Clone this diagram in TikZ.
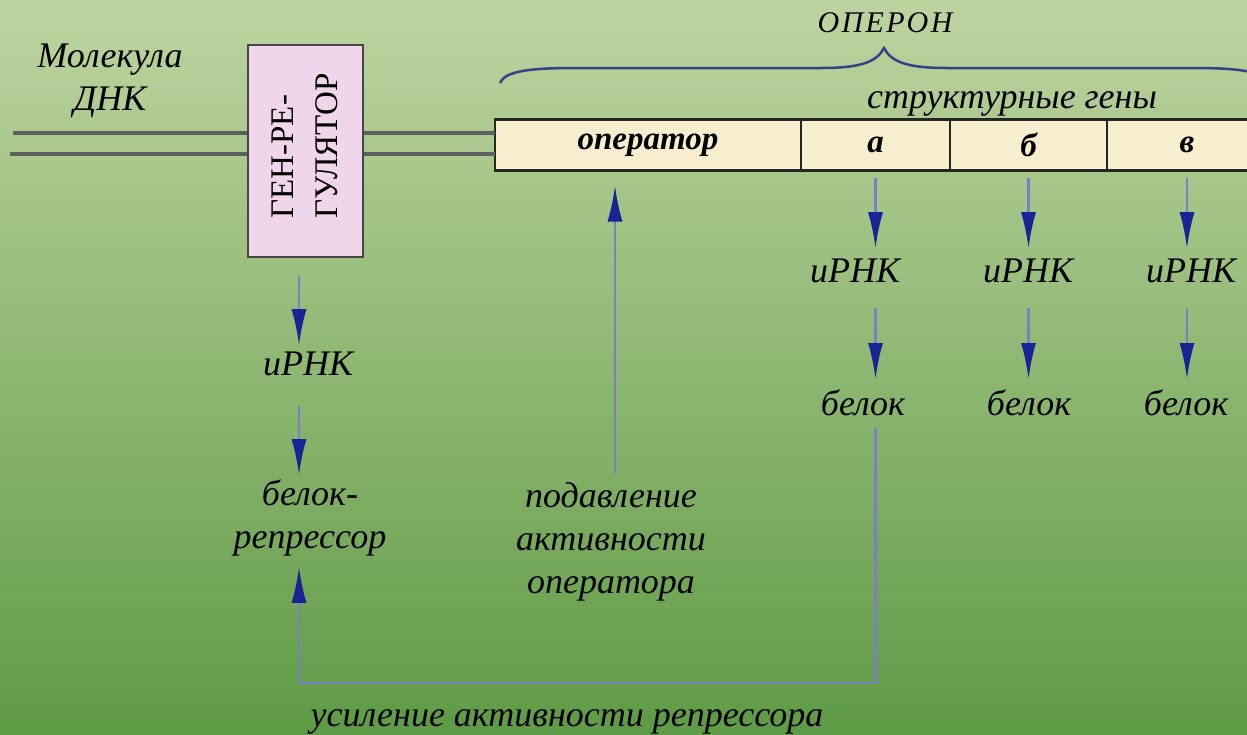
\documentclass[tikz,border=0pt]{standalone}
\usepackage{fontspec}
\setmainfont{Liberation Serif}
\usetikzlibrary{arrows.meta,positioning}

\definecolor{bgtop}{RGB}{190,212,160}
\definecolor{bgmid}{RGB}{152,188,113}
\definecolor{bgbot}{RGB}{94,155,69}
\definecolor{regpink}{RGB}{240,214,234}
\definecolor{reggray}{RGB}{70,70,70}
\definecolor{operbeige}{RGB}{247,238,205}
\definecolor{dnagray}{RGB}{95,95,95}
\definecolor{shaftblue}{RGB}{120,128,200}
\definecolor{headblue}{RGB}{25,35,150}
\definecolor{bracec}{RGB}{55,65,135}

\begin{document}
\begin{tikzpicture}[x=1pt,y=-1pt,
        lbl/.style={font=\fontsize{36}{43}\selectfont\itshape, inner sep=0pt, align=center, anchor=base},
        cell/.style={draw=black!85, line width=2.5pt, fill=operbeige, minimum height=51pt, inner sep=0pt, outer sep=0pt, anchor=west, font=\fontsize{33}{40}\selectfont\bfseries\itshape},
        flow/.style={draw=shaftblue, line width=2.5pt, -{Latex[length=36pt,width=15pt,color=headblue]}},
        dna/.style={draw=dnagray, line width=3.5pt},
        operbrace/.style={draw=bracec, line width=2.5pt},
    ]
    % background
    \shade[top color=bgtop, middle color=bgmid, bottom color=bgbot] (0,0) rectangle (1247,734);
    \useasboundingbox (0,0) rectangle (1247,734);

    % regulator gene
    \node[draw=reggray, line width=2.5pt, fill=regpink, minimum width=115pt, minimum height=212pt, inner sep=0pt] (reg) at (305.5,151) {};
    \node[rotate=90, font=\fontsize{33}{44}\selectfont, align=left, inner sep=0pt] (regtxt) at (305,146) {ГЕН-РЕ-\\ГУЛЯТОР};

    % operon
    \node[cell, minimum width=306pt] (oper) at (495,145) {оператор};
    \node[cell, minimum width=149pt, right=0pt of oper] (genA) {а};
    \node[cell, minimum width=157pt, right=0pt of genA] (genB) {б};
    \node[cell, minimum width=160pt, right=0pt of genB] (genC) {в};

    % DNA strands
    \coordinate (dnaA) at (13,133);
    \coordinate (dnaB) at (10,154);
    \draw[dna] (dnaA) -- (dnaA -| reg.west);
    \draw[dna] (dnaB) -- (dnaB -| reg.west);
    \draw[dna] (dnaA -| reg.east) -- (dnaA -| oper.west);
    \draw[dna] (dnaB -| reg.east) -- (dnaB -| oper.west);

    % brace
    \draw[operbrace] (500,83) .. controls (505,71) and (530,68) .. (575,68) -- (822,68)
        .. controls (860,68) and (877,62) .. (884,48) .. controls (891,62) and (908,68) .. (946,68)
        -- (1193,68) .. controls (1238,68) and (1263,71) .. (1268,83);

    % labels (base = last line)
    \node[lbl] (dnalbl) at (110,110) {Молекула\\ДНК};
    \node[lbl, font=\fontsize{30}{34}\selectfont\itshape\addfontfeature{LetterSpace=8}] (operon) at (885,32) {ОПЕРОН};
    \node[lbl] (strgenes) at (1012,108) {структурные гены};

    \node[lbl] (rnaA) at (855,282) {иРНК};
    \node[lbl] (protA) at (863,415) {белок};
    \node[lbl] (rnaB) at (1028,282) {иРНК};
    \node[lbl] (protB) at (1029,415) {белок};
    \node[lbl] (rnaC) at (1191,282) {иРНК};
    \node[lbl] (protC) at (1186,415) {белок};

    \node[lbl] (rnaR) at (308,375) {иРНК};
    \node[lbl] (repr) at (310,548) {белок-\\репрессор};
    \node[lbl] (supp) at (611,593) {подавление\\активности\\оператора};
    \node[lbl] (enh) at (567,726) {усиление активности репрессора};

    % arrows
    \coordinate (regcol) at (299,0);
    \coordinate (suppcol) at (615,0);
    \coordinate (fbline) at (0,683);
    \foreach \g/\r/\p in {genA/rnaA/protA, genB/rnaB/protB, genC/rnaC/protC} {
        \draw[flow, shorten <=7pt, shorten >=10pt] (\g.south) -- (\g.south |- \r.north);
        \draw[flow, shorten <=25pt, shorten >=10pt] (\g.south |- \r.south) -- (\g.south |- \p.north);
    }
    \draw[flow, shorten <=17pt, shorten >=6pt] (regcol |- reg.south) -- (regcol |- rnaR.north);
    \draw[flow, shorten <=30pt, shorten >=4pt] (regcol |- rnaR.south) -- (regcol |- repr.north);
    \draw[flow, shorten <=9pt, shorten >=15pt] (suppcol |- supp.north) -- (suppcol |- oper.south);
    \draw[flow, shorten <=12pt, shorten >=11pt] (genA.south |- protA.south) -- (genA.south |- fbline) -- (regcol |- fbline) -- (regcol |- repr.south);
\end{tikzpicture}
\end{document}
